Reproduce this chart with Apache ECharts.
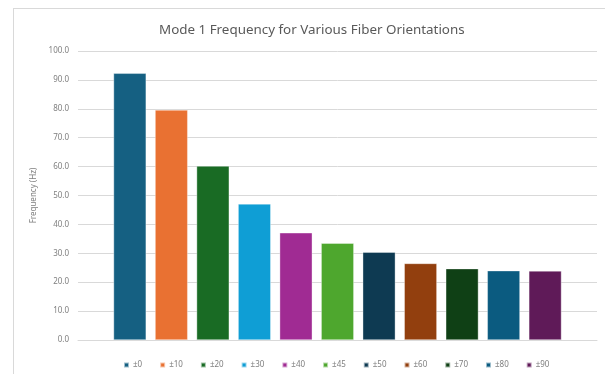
<!DOCTYPE html>
<html>
<head>
<meta charset="utf-8">
<script src="https://cdn.jsdelivr.net/npm/echarts@6/dist/echarts.min.js"></script>
<style>
  html, body { margin: 0; padding: 0; background: #fff; }
  #chart { width: 605px; height: 374px; }
</style>
</head>
<body>
<div id="chart"></div>
<script>
// Fiber orientation angles (series names) and Mode 1 frequencies in Hz
const orientations = ['±0', '±10', '±20', '±30', '±40', '±45', '±50', '±60', '±70', '±80', '±90'];
const frequencies = [92.3, 79.6, 60.2, 47.1, 37.1, 33.5, 30.4, 26.5, 24.7, 24.0, 23.9];
const barColors = ['#156082', '#e97132', '#196b24', '#0f9ed5', '#a02b93', '#4ea72e',
                   '#0e3a52', '#923f0e', '#0f4015', '#0b5b80', '#5f1a58'];
const yTicks = { min: 0, max: 100, interval: 10 };

const chart = echarts.init(document.getElementById('chart'), null, { renderer: 'canvas' });
const fontFamily = '"Noto Sans", "Open Sans", sans-serif';

const series = orientations.map((name, i) => ({
  name: name,
  type: 'bar',
  data: [frequencies[i]],
  barWidth: 32.7,
  barGap: '27%',
  itemStyle: { color: barColors[i], borderColor: 'rgba(255,255,255,0.6)', borderWidth: 0.6 }
}));

chart.setOption({
  animation: false,
  backgroundColor: '#fff',
  title: {
    text: 'Mode 1 Frequency for Various Fiber Orientations',
    left: 154,
    top: 19,
    textStyle: { fontFamily, fontSize: 13.4, fontWeight: 'normal', color: '#595959' }
  },
  grid: { left: 78, right: 8, top: 51, bottom: 34, containLabel: false },
  xAxis: {
    type: 'category',
    data: [''],
    axisLine: { show: true, lineStyle: { color: '#d9d9d9', width: 1 } },
    axisTick: { show: false },
    axisLabel: { show: false }
  },
  yAxis: {
    type: 'value',
    min: yTicks.min,
    max: yTicks.max,
    interval: yTicks.interval,
    name: 'Frequency (Hz)',
    nameLocation: 'middle',
    nameGap: 39,
    nameTextStyle: { fontFamily, fontSize: 8, color: '#7f7f7f' },
    axisLine: { show: false },
    axisTick: { show: false },
    axisLabel: {
      fontFamily, fontSize: 8, color: '#7f7f7f', margin: 9,
      formatter: v => v.toFixed(1)
    },
    splitLine: { lineStyle: { color: '#d9d9d9', width: 1 } }
  },
  legend: {
    data: orientations,
    top: 356,
    left: 118,
    icon: 'rect',
    itemWidth: 5,
    itemHeight: 5,
    itemGap: 17,
    textStyle: { fontFamily, fontSize: 8, color: '#7f7f7f', padding: [0, 0, 0, -1] }
  },
  graphic: [
    { type: 'line', shape: { x1: 13.5, y1: 8, x2: 13.5, y2: 374 }, style: { stroke: '#d9d9d9', lineWidth: 1 } },
    { type: 'line', shape: { x1: 13, y1: 8.5, x2: 605, y2: 8.5 }, style: { stroke: '#d9d9d9', lineWidth: 1 } }
  ],
  series: series
});
</script>
</body>
</html>
